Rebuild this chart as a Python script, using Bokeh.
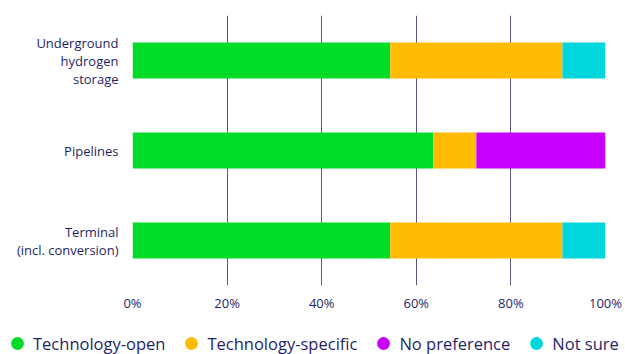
from bokeh.plotting import figure
from bokeh.layouts import column
from bokeh.models import Range1d, FixedTicker, PrintfTickFormatter, Legend, LegendItem, ColumnDataSource
from bokeh.embed import file_html
from bokeh.resources import INLINE

categories = ["Underground\nhydrogen\nstorage", "Pipelines", "Terminal\n(incl. conversion)"]
series_names = ["Technology-open", "Technology-specific", "No preference", "Not sure"]
tech_open = [54.5, 63.6, 54.5]
tech_specific = [36.4, 9.1, 36.4]
no_preference = [0.0, 27.3, 0.0]
not_sure = [9.1, 0.0, 9.1]
x_ticks = [0, 20, 40, 60, 80, 100]

colors = ["#00DC28", "#FFBB00", "#C800FF", "#00D7DC"]
NAVY = "#1f1f66"
FONT = "Open Sans"

series = [tech_open, tech_specific, no_preference, not_sure]

p = figure(width=625, height=314, y_range=list(reversed(categories)),
           x_range=Range1d(0, 100), output_backend="svg", toolbar_location=None,
           min_border_left=132, min_border_right=20, min_border_top=15,
           min_border_bottom=27)
p.frame_align = False

left = [0.0] * len(categories)
for vals, col in zip(series, colors):
    right = [l + v for l, v in zip(left, vals)]
    src = ColumnDataSource(dict(y=categories, left=left, right=right))
    p.hbar(y="y", left="left", right="right", height=0.4, source=src,
           fill_color=col, line_color=None)
    left = right

p.outline_line_color = None
p.ygrid.grid_line_color = None
p.xgrid.grid_line_color = NAVY
p.xgrid.grid_line_alpha = 0.75
p.xgrid.grid_line_width = 1
p.xaxis.ticker = FixedTicker(ticks=x_ticks)
p.xaxis.formatter = PrintfTickFormatter(format="%d%%")

for ax in (p.xaxis[0], p.yaxis[0]):
    ax.axis_line_color = None
    ax.major_tick_line_color = None
    ax.minor_tick_line_color = None
    ax.major_label_text_color = NAVY
    ax.major_label_text_font = FONT
    ax.major_label_text_font_size = "13px"
p.xaxis.major_label_standoff = 2
p.yaxis.major_label_standoff = 8
p.yaxis.major_label_text_line_height = 1.0

# legend strip
lp = figure(width=625, height=40, x_range=Range1d(0, 1), y_range=Range1d(0, 1),
            output_backend="svg", toolbar_location=None,
            min_border_left=0, min_border_right=0, min_border_top=0, min_border_bottom=0)
lp.frame_align = False
lp.axis.visible = False
lp.grid.visible = False
lp.outline_line_color = None

nan = float("nan")
items = []
for name, col in zip(series_names, colors):
    r = lp.scatter(x=[nan], y=[nan], marker="circle", size=13, fill_color=col, line_color=None)
    items.append(LegendItem(label=name, renderers=[r]))

legend = Legend(items=items, orientation="horizontal", location=(1, -5),
                label_text_font=FONT, label_text_font_size="16.5px",
                label_text_color=NAVY, glyph_width=32, glyph_height=32,
                label_standoff=0, spacing=10, padding=0, margin=0,
                border_line_color=None, background_fill_alpha=0)
lp.add_layout(legend, "center")

layout = column(p, lp, spacing=0)
open("out.html", "w").write(file_html(layout, INLINE))
